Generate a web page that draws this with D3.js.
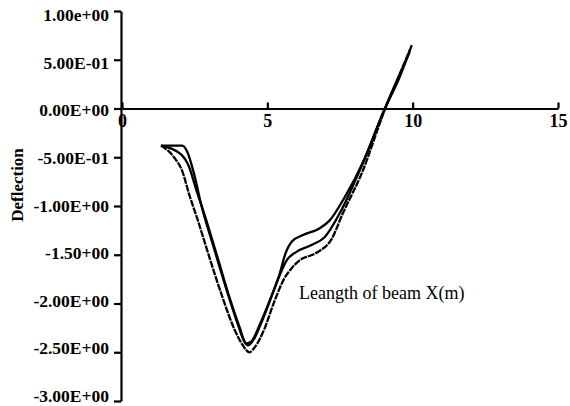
<!DOCTYPE html>
<html>
<head>
<meta charset="utf-8">
<script src="https://cdn.jsdelivr.net/npm/d3@7"></script>
<style>
  html, body { margin: 0; padding: 0; background: #fff; }
  svg { display: block; }
</style>
</head>
<body>
<svg id="chart" width="570" height="406"></svg>
<script>
// ---- data ----
const xTicks = [0, 5, 10, 15];
const xTickLabels = ["0", "5", "10", "15"];
const yTicks = [1, 0.5, 0, -0.5, -1, -1.5, -2, -2.5, -3];
const yTickLabels = ["1.00e+00", "5.00E-01", "0.00E+00", "-5.00E-01", "-1.00E+00",
                     "-1.50+00", "-2.00E+00", "-2.50E+00", "-3.00E+00"];
const xTitle = "Leangth of beam X(m)";
const yTitle = "Deflection";

const seriesA = [
  [1.34,-0.38],[2.07,-0.38],[2.24,-0.44],[2.48,-0.67],[2.72,-0.98],[3.17,-1.44],
  [3.62,-1.88],[3.97,-2.20],[4.21,-2.39],[4.34,-2.43],[4.55,-2.36],[4.79,-2.20],
  [5.14,-1.93],[5.41,-1.71],[5.62,-1.49],[5.86,-1.36],[6.21,-1.30],[6.79,-1.23],
  [7.14,-1.15],[7.66,-0.91],[8.34,-0.52],[9.03,-0.01],[9.55,0.32],[9.97,0.65]
];
const seriesB = [
  [1.34,-0.38],[2.03,-0.47],[2.31,-0.60],[2.55,-0.83],[2.83,-1.08],[3.28,-1.52],
  [3.69,-1.93],[4.03,-2.23],[4.28,-2.41],[4.45,-2.39],[4.72,-2.23],[5.07,-1.98],
  [5.41,-1.72],[5.66,-1.56],[6.00,-1.47],[6.52,-1.40],[6.97,-1.32],[7.48,-1.08],
  [8.17,-0.64],[9.00,-0.03],[9.48,0.30],[9.90,0.58]
];
const seriesC = [
  [1.34,-0.38],[1.79,-0.50],[2.07,-0.64],[2.31,-0.88],[2.59,-1.13],[3.00,-1.52],
  [3.45,-1.93],[3.86,-2.26],[4.14,-2.42],[4.38,-2.50],[4.59,-2.44],[4.90,-2.26],
  [5.24,-1.98],[5.59,-1.74],[5.83,-1.64],[6.10,-1.56],[6.69,-1.48],[7.21,-1.34],
  [7.59,-1.08],[8.24,-0.67],[9.07,0.01],[9.55,0.35],[9.90,0.60]
];
const seriesList = [
  {name: "A", values: seriesA, dash: null},
  {name: "B", values: seriesB, dash: null},
  {name: "C", values: seriesC, dash: "7,1"}
];

// ---- drawing ----
const svg = d3.select("#chart");
const x = d3.scaleLinear().domain([0, 15]).range([122, 558]);
const y = d3.scaleLinear().domain([-3, 1]).range([401, 11]);
const font = "'Liberation Serif', 'Times New Roman', serif";
const yFs = 17.5;

// Y axis
const yAxis = d3.axisLeft(y)
  .tickValues(yTicks)
  .tickFormat((d, i) => yTickLabels[i])
  .tickSizeInner(7).tickSizeOuter(0).tickPadding(5);
const gy = svg.append("g").attr("transform", `translate(${x(0) - 1},0)`).call(yAxis);
gy.selectAll("path.domain").attr("stroke", "#000").attr("stroke-width", 2.2);
gy.selectAll(".tick line").attr("stroke", "#000").attr("stroke-width", 2.2);
gy.selectAll(".tick text")
  .attr("fill", "#000")
  .attr("dy", (d, i) => (0.32 * yFs + 4 - 9 * i / (yTicks.length - 1)) + "px")
  .style("font-family", font).style("font-size", yFs + "px").style("font-weight", "bold");

// X axis (at y = 0, ticks pointing up)
const xAxis = d3.axisBottom(x)
  .tickValues(xTicks)
  .tickFormat((d, i) => xTickLabels[i])
  .tickSizeInner(-6).tickSizeOuter(0).tickPadding(6);
const gx = svg.append("g").attr("transform", `translate(0,${y(0)})`).call(xAxis);
gx.selectAll("path.domain").attr("stroke", "#000").attr("stroke-width", 2.2);
gx.selectAll(".tick line").attr("stroke", "#000").attr("stroke-width", 2.2);
gx.selectAll(".tick text")
  .attr("fill", "#000")
  .style("font-family", font).style("font-size", "18px").style("font-weight", "bold");

// lines
const line = d3.line()
  .x(d => x(d[0])).y(d => y(d[1]))
  .curve(d3.curveMonotoneX);
svg.append("g").selectAll("path.series")
  .data(seriesList)
  .join("path")
  .attr("class", "series")
  .attr("d", d => line(d.values))
  .attr("fill", "none")
  .attr("stroke", "#000")
  .attr("stroke-width", 2.3)
  .attr("stroke-linejoin", "round")
  .attr("stroke-dasharray", d => d.dash);

// titles
svg.append("text")
  .attr("x", 299).attr("y", 299)
  .attr("fill", "#000")
  .style("font-family", font).style("font-size", "18px")
  .text(xTitle);

svg.append("text")
  .attr("transform", "translate(23,185) rotate(-90)")
  .attr("text-anchor", "middle")
  .attr("fill", "#000")
  .style("font-family", font).style("font-size", "17px").style("font-weight", "bold")
  .text(yTitle);
</script>
</body>
</html>
